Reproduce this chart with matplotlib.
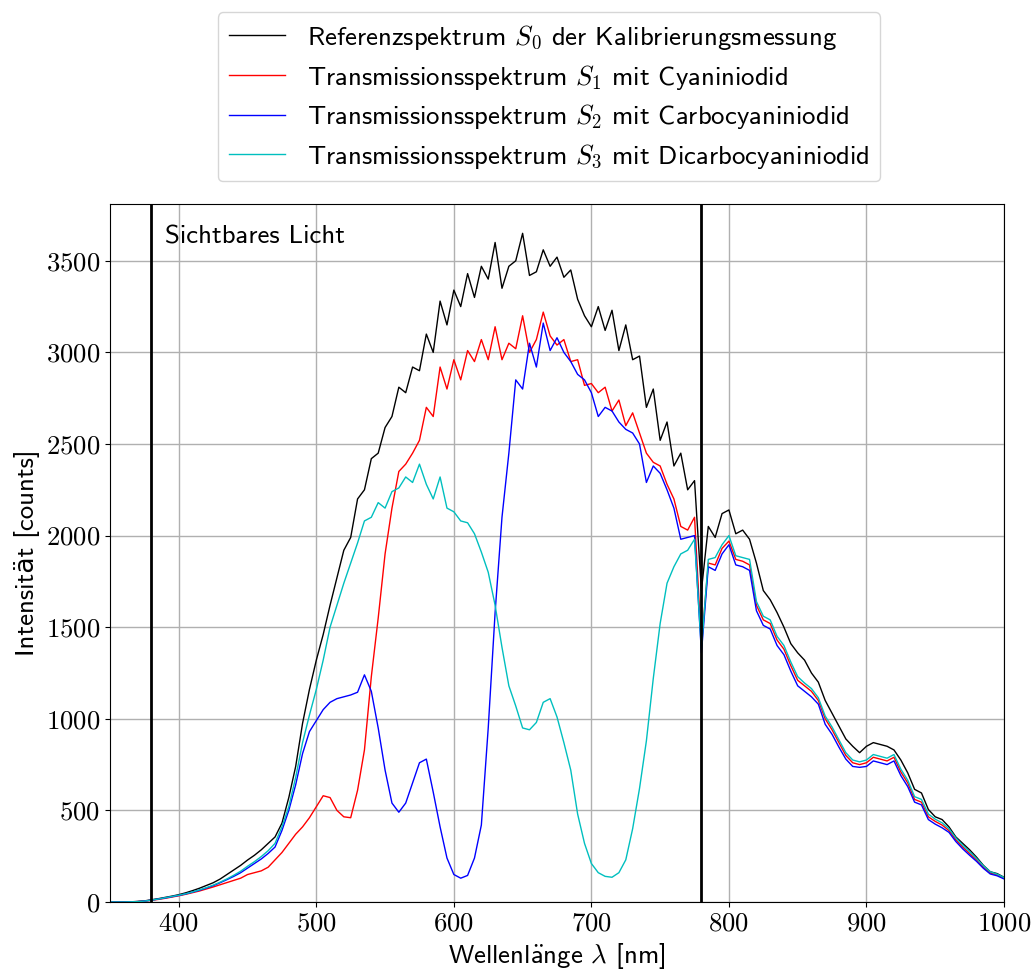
import numpy as np
import matplotlib.pyplot as plt

plt.rcParams.update({
    "font.family": ["cmss10", "DejaVu Sans"],
    "mathtext.fontset": "cm",
    "font.size": 19.3,
    "axes.formatter.use_mathtext": True,
    "lines.linewidth": 1,
})

wl = np.arange(350, 1001, 5)

s0 = [0, 0, 0, 1, 3, 6, 12, 18, 25, 32,
      40, 50, 62, 75, 90, 105, 125, 150, 175, 200,
      229, 255, 285, 320, 355, 430, 570, 740, 975, 1160,
      1320, 1460, 1620, 1770, 1920, 1990, 2200, 2250, 2420, 2450,
      2590, 2650, 2810, 2780, 2920, 2900, 3100, 3000, 3280, 3150,
      3340, 3250, 3430, 3300, 3470, 3400, 3600, 3350, 3470, 3500,
      3650, 3420, 3440, 3560, 3470, 3520, 3410, 3450, 3290, 3200,
      3140, 3250, 3120, 3230, 3010, 3150, 2960, 2980, 2700, 2800,
      2520, 2620, 2380, 2450, 2250, 2300, 1700, 2050, 1990, 2120,
      2140, 2010, 2030, 1980, 1850, 1700, 1650, 1580, 1500, 1410,
      1360, 1320, 1250, 1200, 1100, 1030, 960, 890, 850, 815,
      850, 870, 860, 850, 830, 775, 705, 615, 595, 505,
      465, 450, 410, 355, 320, 285, 245, 200, 165, 155,
      135]

s1 = [0, 0, 0, 1, 2, 5, 9, 14, 20, 27,
      34, 42, 51, 60, 71, 82, 94, 106, 118, 130,
      150, 160, 170, 190, 230, 270, 320, 370, 410, 460,
      520, 580, 570, 500, 465, 460, 610, 830, 1230, 1550,
      1900, 2150, 2350, 2390, 2450, 2520, 2700, 2650, 2920, 2800,
      2960, 2850, 3010, 2950, 3070, 2960, 3140, 2960, 3050, 3020,
      3200, 3000, 3070, 3220, 3090, 3040, 3070, 2950, 2960, 2820,
      2830, 2780, 2810, 2680, 2740, 2600, 2670, 2560, 2450, 2400,
      2380, 2280, 2200, 2050, 2030, 2100, 1400, 1850, 1840, 1930,
      1970, 1870, 1860, 1840, 1620, 1540, 1520, 1430, 1380, 1290,
      1210, 1180, 1150, 1100, 1000, 940, 870, 800, 760, 750,
      760, 790, 780, 770, 790, 710, 650, 560, 545, 465,
      440, 420, 390, 340, 300, 265, 230, 190, 158, 148,
      130]

s2 = [0, 0, 0, 1, 2, 5, 10, 16, 22, 29,
      36, 44, 54, 64, 76, 89, 105, 122, 140, 160,
      185, 210, 235, 265, 300, 390, 500, 640, 810, 930,
      990, 1050, 1090, 1110, 1120, 1130, 1145, 1240, 1150, 950,
      720, 540, 490, 540, 650, 760, 780, 600, 410, 240,
      150, 130, 145, 240, 420, 950, 1580, 2100, 2450, 2850,
      2800, 3050, 2920, 3160, 3010, 3080, 3000, 2950, 2880, 2850,
      2780, 2650, 2700, 2680, 2620, 2580, 2560, 2500, 2290, 2380,
      2340, 2250, 2150, 1980, 1990, 2000, 1360, 1830, 1810, 1900,
      1950, 1840, 1830, 1810, 1590, 1510, 1490, 1400, 1350, 1260,
      1180, 1150, 1120, 1080, 970, 915, 845, 780, 740, 735,
      740, 770, 760, 750, 770, 690, 630, 545, 530, 450,
      425, 405, 380, 330, 290, 255, 222, 184, 153, 143,
      126]

s3 = [0, 0, 0, 1, 2, 5, 10, 16, 23, 30,
      37, 45, 55, 66, 78, 92, 108, 126, 146, 168,
      195, 220, 248, 280, 320, 410, 520, 680, 870, 1020,
      1160, 1320, 1500, 1620, 1740, 1850, 1960, 2080, 2100, 2180,
      2150, 2240, 2260, 2320, 2290, 2390, 2280, 2200, 2320, 2150,
      2130, 2080, 2070, 2010, 1910, 1800, 1620, 1390, 1180, 1070,
      950, 940, 980, 1090, 1110, 1010, 870, 720, 480, 320,
      210, 160, 140, 135, 160, 230, 400, 620, 880, 1220,
      1520, 1740, 1830, 1900, 1920, 1980, 1380, 1870, 1880, 1950,
      2000, 1890, 1880, 1870, 1640, 1560, 1540, 1450, 1400, 1310,
      1230, 1195, 1165, 1115, 1015, 955, 885, 815, 775, 765,
      775, 805, 795, 785, 805, 725, 665, 575, 560, 480,
      452, 432, 400, 350, 310, 275, 238, 198, 165, 152,
      134]

labels = [r"Referenzspektrum $S_0$ der Kalibrierungsmessung",
          r"Transmissionsspektrum $S_1$ mit Cyaniniodid",
          r"Transmissionsspektrum $S_2$ mit Carbocyaniniodid",
          r"Transmissionsspektrum $S_3$ mit Dicarbocyaniniodid"]
colors = ["black", "red", "blue", "c"]
visible = (380, 780)

fig = plt.figure(figsize=(10.33, 9.74), dpi=100)
ax = fig.add_axes([110/1033, 1-902/974, 894/1033, 698/974])

for s, c, l in zip([s0, s1, s2, s3], colors, labels):
    ax.plot(wl, s, color=c, label=l)
for v in visible:
    ax.axvline(v, color="black", linewidth=2)
ax.text(390, 3630, "Sichtbares Licht", va="center")

ax.set_xlim(350, 1000)
ax.set_ylim(0, 3810)
ax.set_xticks(np.arange(400, 1001, 100))
ax.set_yticks(np.arange(0, 3501, 500))
for t in ax.get_xticklabels() + ax.get_yticklabels():
    t.set_family("cmr10")
ax.grid(True, color="#b0b0b0", linewidth=1)
# cmss10 has no umlaut, so build it from an accent inside mathtext
ax.set_xlabel(r"Wellenl$\ddot{\mathsf{a}}$nge $\lambda$ [nm]")
ax.set_ylabel("Intensität [counts]")

fig.legend(loc="upper center", bbox_to_anchor=(549/1033, 1+1/974),
           labelspacing=0.4, handlelength=2.1)

fig.savefig("out.png", dpi=100)
